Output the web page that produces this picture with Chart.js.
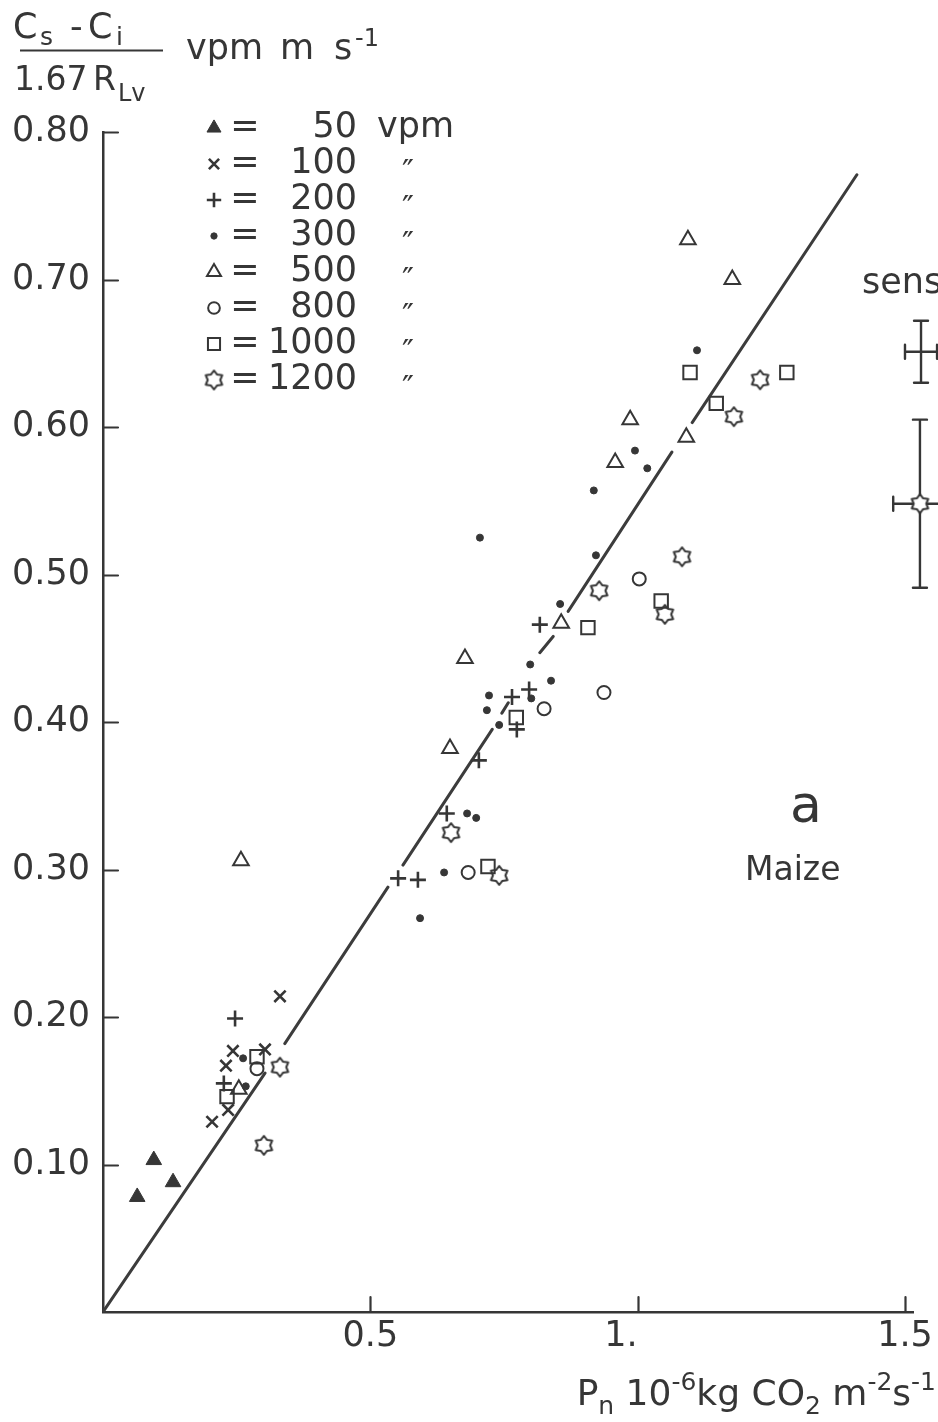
<!DOCTYPE html>
<html>
<head>
<meta charset="utf-8">
<script src="https://cdn.jsdelivr.net/npm/chart.js@4.4.0/dist/chart.umd.min.js"></script>
<style>
  html, body { margin: 0; padding: 0; background: #fff; }
  #wrap { position: relative; width: 938px; height: 1422px; }
</style>
</head>
<body>
<div id="wrap"><canvas id="chart"></canvas></div>
<script>
(function () {
    'use strict';

    // x = Pn (1e-6 kg CO2 m-2 s-1), y = (Cs-Ci)/1.67RLv
    var x50 = [0.064, 0.095, 0.131];
    var y50 = [0.078, 0.103, 0.088];
    var x100 = [0.331, 0.243, 0.230, 0.303, 0.234, 0.204];
    var y100 = [0.214, 0.177, 0.167, 0.178, 0.137, 0.129];
    var x200 = [0.247, 0.226, 0.552, 0.589, 0.643, 0.703, 0.774, 0.765, 0.797, 0.817];
    var y200 = [0.199, 0.155, 0.294, 0.293, 0.338, 0.374, 0.395, 0.417, 0.422, 0.466];
    var x300 = [0.262, 0.267, 0.593, 0.638, 0.681, 0.698, 0.718, 0.722, 0.741, 0.801, 0.838, 0.799, 0.855, 0.705, 0.922, 0.918, 0.995, 1.018, 1.111];
    var y300 = [0.172, 0.153, 0.267, 0.298, 0.338, 0.335, 0.408, 0.418, 0.398, 0.416, 0.428, 0.439, 0.480, 0.525, 0.513, 0.557, 0.584, 0.572, 0.652];
    var x500 = [0.258, 0.254, 0.649, 0.677, 0.857, 0.958, 0.986, 1.091, 1.094, 1.177];
    var y500 = [0.306, 0.151, 0.382, 0.443, 0.467, 0.576, 0.605, 0.593, 0.727, 0.700];
    var x800 = [0.288, 0.683, 0.825, 0.937, 1.003];
    var y800 = [0.165, 0.298, 0.409, 0.420, 0.497];
    var x1000 = [0.288, 0.232, 0.720, 0.773, 0.907, 1.044, 1.098, 1.147, 1.279];
    var y1000 = [0.173, 0.146, 0.302, 0.403, 0.464, 0.482, 0.637, 0.616, 0.637];
    var x1200 = [0.331, 0.301, 0.651, 0.741, 0.928, 1.051, 1.083, 1.180, 1.229];
    var y1200 = [0.166, 0.113, 0.325, 0.296, 0.489, 0.473, 0.512, 0.607, 0.632];

    // fitted line, broken where it runs through the points
    var lineX = [0, 0.303, null, 0.340, 0.533, null, 0.561, 0.728, null, 0.746, 0.758, null, 0.817, 0.842, null, 0.870, 1.064, null, 1.102, 1.410];
    var lineY = [0, 0.162, null, 0.182, 0.288, null, 0.303, 0.395, null, 0.406, 0.413, null, 0.447, 0.458, null, 0.475, 0.583, null, 0.603, 0.771];

    // sensitivity markers with error bars
    var sensX = [1.530, 1.528];
    var sensY = [0.651, 0.548];
    var sensErrX = [0.030, 0.050];
    var sensErrY = [0.021, 0.057];

    var legendLabels = ['50', '100', '200', '300', '500', '800', '1000', '1200'];
    var xTicks = [0.5, 1.0, 1.5];
    var xTickLabels = ['0.5', '1.   ', '1.5'];
    var yTicks = [0.1, 0.2, 0.3, 0.4, 0.5, 0.6, 0.7, 0.8];
    var yTickLabels = ['0.10', '0.20', '0.30', '0.40', '0.50', '0.60', '0.70', '0.80'];

    var ink = '#363636';
    var FONT = '"DejaVu Sans", sans-serif';

    function hexagram(r, fill) {
        var c = document.createElement('canvas');
        var s = Math.ceil(r * 2 + 4);
        c.width = s;
        c.height = s;
        var g = c.getContext('2d');
        g.strokeStyle = ink;
        g.lineWidth = 2;
        g.lineJoin = 'round';
        g.beginPath();
        for (var i = 0; i < 12; i++) {
            var a = -Math.PI / 2 + i * Math.PI / 6;
            var rr = i % 2 ? r * 0.66 : r;
            var px = s / 2 + Math.cos(a) * rr, py = s / 2 + Math.sin(a) * rr;
            if (i) { g.lineTo(px, py); } else { g.moveTo(px, py); }
        }
        g.closePath();
        if (fill) { g.fillStyle = '#fff'; g.fill(); }
        g.stroke();
        return c;
    }

    var star = hexagram(9.5, false);
    var starWhite = hexagram(9.5, true);

    var markers = [
        {style: 'triangle', radius: 9, filled: true, width: 1},
        {style: 'crossRot', radius: 8, filled: false, width: 2.6},
        {style: 'cross', radius: 8, filled: false, width: 2.6},
        {style: 'circle', radius: 3.5, filled: true, width: 1},
        {style: 'triangle', radius: 9, filled: false, width: 2},
        {style: 'circle', radius: 6.5, filled: false, width: 2},
        {style: 'rect', radius: 9.5, filled: false, width: 2},
        {style: star, radius: 10, filled: false, width: 2}
    ];

    function pts(xs, ys) {
        return xs.map(function (v, i) { return {x: v, y: ys[i]}; });
    }

    var seriesX = [x50, x100, x200, x300, x500, x800, x1000, x1200];
    var seriesY = [y50, y100, y200, y300, y500, y800, y1000, y1200];

    var datasets = seriesX.map(function (xs, i) {
        var m = markers[i];
        return {
            label: legendLabels[i] + ' vpm',
            data: pts(xs, seriesY[i]),
            pointStyle: m.style,
            pointRadius: m.radius,
            pointBorderWidth: m.width,
            pointBorderColor: ink,
            pointBackgroundColor: m.filled ? ink : 'rgba(0,0,0,0)'
        };
    });

    datasets.push({
        label: 'sensitivity',
        data: pts(sensX, sensY),
        clip: false,
        pointStyle: ['circle', starWhite],
        pointRadius: [3.5, 10],
        pointBorderWidth: 1,
        pointBorderColor: ink,
        pointBackgroundColor: ink
    });

    datasets.push({
        type: 'line',
        label: 'fit',
        data: pts(lineX, lineY),
        showLine: true,
        spanGaps: false,
        pointRadius: 0,
        borderColor: '#3c3c3c',
        borderWidth: 3,
        borderCapStyle: 'round'
    });

    function runs(ctx, parts, x, y) {
        parts.forEach(function (p) {
            ctx.font = p[1] + 'px ' + FONT;
            ctx.fillText(p[0], x, y + (p[2] || 0));
            x += ctx.measureText(p[0]).width;
        });
        return x;
    }

    function runsWidth(ctx, parts) {
        var w = 0;
        parts.forEach(function (p) {
            ctx.font = p[1] + 'px ' + FONT;
            w += ctx.measureText(p[0]).width;
        });
        return w;
    }

    var decor = {
        id: 'decor',
        beforeDatasetsDraw: function (chart) {
            var ctx = chart.ctx, xs = chart.scales.x, ys = chart.scales.y;
            ctx.save();
            ctx.strokeStyle = ink;
            ctx.lineWidth = 2.2;
            ctx.lineCap = 'round';
            // inward tick marks
            ctx.beginPath();
            yTicks.forEach(function (v) {
                var py = Math.round(ys.getPixelForValue(v)) + 0.5;
                ctx.moveTo(xs.left, py);
                ctx.lineTo(xs.left + 15, py);
            });
            xTicks.forEach(function (v) {
                var px = Math.round(xs.getPixelForValue(v)) + 0.5;
                ctx.moveTo(px, ys.bottom);
                ctx.lineTo(px, ys.bottom - 15);
            });
            ctx.stroke();
            // sensitivity error bars
            ctx.lineWidth = 2.4;
            sensX.forEach(function (sx, i) {
                var cx = xs.getPixelForValue(sx), cy = ys.getPixelForValue(sensY[i]);
                var t = ys.getPixelForValue(sensY[i] + sensErrY[i]);
                var b = ys.getPixelForValue(sensY[i] - sensErrY[i]);
                var l = xs.getPixelForValue(sx - sensErrX[i]);
                var r = xs.getPixelForValue(sx + sensErrX[i]);
                ctx.beginPath();
                ctx.moveTo(cx, t); ctx.lineTo(cx, b);
                ctx.moveTo(cx - 7, t); ctx.lineTo(cx + 7, t);
                ctx.moveTo(cx - 7, b); ctx.lineTo(cx + 7, b);
                ctx.moveTo(l, cy); ctx.lineTo(r, cy);
                ctx.moveTo(l, cy - 7); ctx.lineTo(l, cy + 7);
                ctx.moveTo(r, cy - 7); ctx.lineTo(r, cy + 7);
                ctx.stroke();
            });
            ctx.restore();
        },
        afterDraw: function (chart) {
            var ctx = chart.ctx;
            var drawPoint = Chart.helpers && Chart.helpers.drawPoint;
            ctx.save();
            ctx.fillStyle = ink;
            ctx.strokeStyle = ink;
            ctx.textAlign = 'left';
            ctx.textBaseline = 'alphabetic';

            // y axis title (fraction) top left
            ctx.font = '35px ' + FONT;
            ctx.fillText('C', 13, 38);
            ctx.fillText('-', 70, 38);
            ctx.fillText('C', 88, 38);
            ctx.font = '25px ' + FONT;
            ctx.fillText('s', 40, 45);
            ctx.fillText('i', 116, 45);
            ctx.lineWidth = 2;
            ctx.beginPath();
            ctx.moveTo(20, 50.5);
            ctx.lineTo(163, 50.5);
            ctx.stroke();
            ctx.font = '33px ' + FONT;
            ctx.fillText('1.67', 14, 90);
            ctx.fillText('R', 93, 90);
            ctx.font = '24px ' + FONT;
            ctx.fillText('Lv', 118, 101);
            ctx.font = '35px ' + FONT;
            ctx.fillText('vpm', 186, 59);
            ctx.fillText('m', 280, 59);
            ctx.fillText('s', 334, 59);
            ctx.font = '24px ' + FONT;
            ctx.fillText('-1', 355, 46);

            // x axis title, right aligned
            var xt = [['P', 36], ['n', 25, 9], [' 10', 36], ['-6', 25, -15], ['kg', 36], [' CO', 36], ['2', 25, 9],
                      [' m', 36], ['-2', 25, -15], ['s', 36], ['-1', 25, -15]];
            runs(ctx, xt, 936 - runsWidth(ctx, xt), 1405);

            // legend
            legendLabels.forEach(function (lab, i) {
                var ly = 128 + i * 36;
                var m = markers[i];
                if (drawPoint) {
                    ctx.lineWidth = m.width;
                    ctx.fillStyle = m.filled ? ink : 'rgba(0,0,0,0)';
                    drawPoint(ctx, {pointStyle: m.style, radius: m.radius * 0.9, rotation: 0, borderWidth: m.width}, 214, ly);
                }
                ctx.fillStyle = ink;
                ctx.font = '35px ' + FONT;
                ctx.textBaseline = 'middle';
                ctx.textAlign = 'center';
                ctx.fillText('=', 245, ly);
                ctx.textAlign = 'right';
                ctx.fillText(lab, 357, ly);
                ctx.textAlign = 'left';
                if (i === 0) {
                    ctx.fillText('vpm', 377, ly);
                } else {
                    ctx.font = '32px ' + FONT;
                    ctx.fillText('\u2033', 402, ly + 10);
                }
            });

            // panel labels
            ctx.textBaseline = 'alphabetic';
            ctx.textAlign = 'left';
            ctx.font = '35px ' + FONT;
            ctx.fillText('sensitivity', 862, 293);
            ctx.font = '52px ' + FONT;
            ctx.fillText('a', 790, 822);
            ctx.font = '33px ' + FONT;
            ctx.fillText('Maize', 745, 880);
            ctx.restore();
        }
    };

    var ctx = document.getElementById('chart').getContext('2d');
    window.maizeChart = new Chart(ctx, {
        type: 'scatter',
        data: {datasets: datasets},
        options: {
            responsive: true,
            maintainAspectRatio: false,
            animation: false,
            layout: {padding: {top: 132, right: 25, bottom: 0, left: 0}},
            plugins: {legend: {display: false}, tooltip: {enabled: false}},
            scales: {
                x: {
                    type: 'linear',
                    min: 0,
                    max: 1.515,
                    afterFit: function (s) { s.height = 110; },
                    afterBuildTicks: function (s) { s.ticks = xTicks.map(function (v) { return {value: v}; }); },
                    grid: {display: false, drawTicks: false},
                    border: {display: true, color: ink, width: 2.5},
                    ticks: {
                        autoSkip: false,
                        maxRotation: 0,
                        padding: 4,
                        color: ink,
                        font: {family: FONT, size: 35},
                        callback: function (v, i) { return xTickLabels[i]; }
                    }
                },
                y: {
                    type: 'linear',
                    min: 0,
                    max: 0.8,
                    afterFit: function (s) { s.width = 103; },
                    afterBuildTicks: function (s) { s.ticks = yTicks.map(function (v) { return {value: v}; }); },
                    grid: {display: false, drawTicks: false},
                    border: {display: true, color: ink, width: 2.5},
                    ticks: {
                        autoSkip: false,
                        padding: 13,
                        color: ink,
                        font: {family: FONT, size: 35},
                        callback: function (v, i) { return yTickLabels[i]; }
                    }
                }
            }
        },
        plugins: [decor]
    });
})();
</script>
</body>
</html>
